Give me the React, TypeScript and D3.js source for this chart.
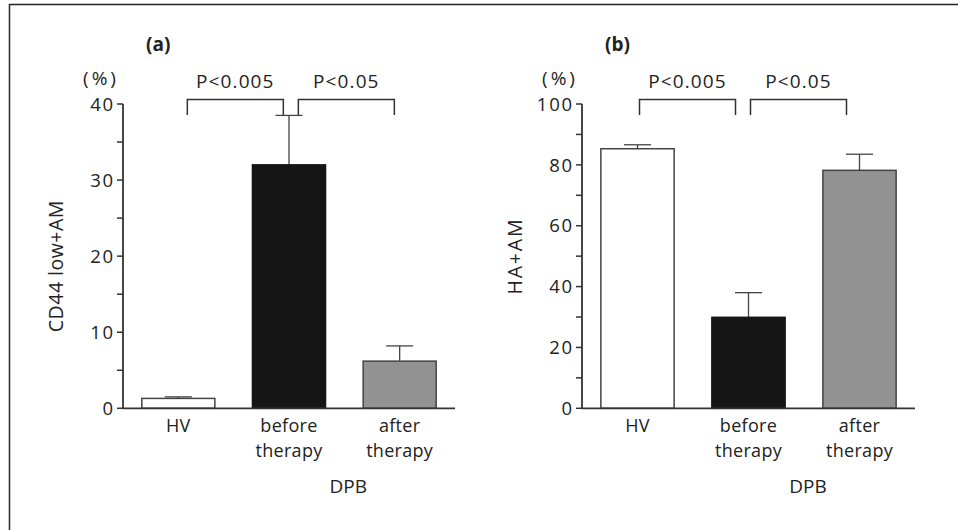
import React from "react";
import * as d3 from "d3";

const categories = ["HV", "before therapy", "after therapy"];
const categoryLines = [["HV"], ["before", "therapy"], ["after", "therapy"]];
const valuesA = [1.3, 32.0, 6.2];
const errorsA = [1.5, 38.5, 8.2];
const valuesB = [85.3, 29.9, 78.2];
const errorsB = [86.6, 38.0, 83.5];
const ticksA = [0, 10, 20, 30, 40];
const minorA = [5, 15, 25, 35];
const ticksB = [0, 20, 40, 60, 80, 100];
const minorB = [10, 30, 50, 70, 90];
const pLabels = ["P<0.005", "P<0.05"];
const fills = ["#ffffff", "#151515", "#929292"];

const FONT = "'Open Sans', 'DejaVu Sans', sans-serif";
const TXT = "#222";

type PanelProps = {
  x0: number;
  x1: number;
  max: number;
  values: number[];
  errors: number[];
  ticks: number[];
  minor: number[];
  yLabel: string;
  yLabelShift: number;
  yLabelSpacing: number;
  tag: string;
  bracketOffset: number;
};

function Panel({
  x0,
  x1,
  max,
  values,
  errors,
  ticks,
  minor,
  yLabel,
  yLabelShift,
  yLabelSpacing,
  tag,
  bracketOffset,
}: PanelProps) {
  const y = d3.scaleLinear().domain([0, max]).range([408.3, 104]);
  const x = d3
    .scaleBand<string>()
    .domain(categories)
    .range([x0, x1])
    .paddingInner(0.34)
    .paddingOuter(0.17);
  const bw = x.bandwidth();
  const cx = (c: string) => (x(c) as number) + bw / 2;
  const capW = 27;
  const bTop = 99.5;
  const bBot = 115;
  const bW = 96;
  const brackets = [
    [cx(categories[0]) + bracketOffset, cx(categories[0]) + bracketOffset + bW],
    [cx(categories[0]) + bracketOffset + bW + 15, cx(categories[0]) + bracketOffset + 2 * bW + 15],
  ];
  return (
    <g>
      {/* bars */}
      {categories.map((c, i) => (
        <g key={c}>
          <line
            x1={cx(c)}
            x2={cx(c)}
            y1={y(values[i])}
            y2={y(errors[i])}
            stroke="#444"
            strokeWidth={1.3}
          />
          <line
            x1={cx(c) - capW / 2}
            x2={cx(c) + capW / 2}
            y1={y(errors[i])}
            y2={y(errors[i])}
            stroke="#444"
            strokeWidth={1.3}
          />
          <rect
            x={x(c)}
            y={y(values[i])}
            width={bw}
            height={y(0) - y(values[i])}
            fill={fills[i]}
            stroke={i === 1 ? "#151515" : "#444"}
            strokeWidth={1.5}
          />
        </g>
      ))}
      {/* axes */}
      <line x1={x0} x2={x0} y1={y(max)} y2={y(0)} stroke="#333" strokeWidth={1.8} />
      <line x1={x0} x2={x1} y1={y(0)} y2={y(0)} stroke="#333" strokeWidth={1.8} />
      {ticks.map((t) => (
        <g key={t}>
          <line x1={x0 - 6} x2={x0} y1={y(t)} y2={y(t)} stroke="#333" strokeWidth={1.5} />
          <text
            x={x0 - 8}
            y={y(t)}
            dy="0.36em"
            textAnchor="end"
            fontSize={18.5}
            fill={TXT}
            fontFamily={FONT}
            letterSpacing={1.8}
          >
            {t}
          </text>
        </g>
      ))}
      {minor.map((t) => (
        <line key={t} x1={x0 - 6} x2={x0} y1={y(t)} y2={y(t)} stroke="#333" strokeWidth={1.5} />
      ))}
      {/* category labels */}
      {categories.map((c, i) =>
        categoryLines[i].map((ln, j) => (
          <text
            key={c + j}
            x={cx(c)}
            y={432 + j * 24.5}
            textAnchor="middle"
            fontSize={18}
            fill={TXT}
            fontFamily={FONT}
            letterSpacing={0.3}
          >
            {ln}
          </text>
        ))
      )}
      <text
        x={(cx(categories[1]) + cx(categories[2])) / 2 + 4}
        y={493}
        textAnchor="middle"
        fontSize={19}
        fill={TXT}
        fontFamily={FONT}
      >
        DPB
      </text>
      {/* y label */}
      <text
        transform={`translate(${x0 - 60},${(y(0) + y(max)) / 2 + yLabelShift}) rotate(-90)`}
        textAnchor="middle"
        fontSize={19.5}
        fill={TXT}
        fontFamily={FONT}
        letterSpacing={yLabelSpacing}
      >
        {yLabel}
      </text>
      <text
        x={x0 - 22}
        y={85}
        textAnchor="middle"
        fontSize={19}
        fill={TXT}
        fontFamily={FONT}
        letterSpacing={3}
      >
        (%)
      </text>
      <text x={x0 + 23} y={51} fontSize={19} fontWeight="bold" fill={TXT} fontFamily={FONT}>
        {tag}
      </text>
      {/* brackets */}
      {brackets.map(([a, b], i) => (
        <g key={i}>
          <path
            d={`M${a},${bBot}V${bTop}H${b}V${bBot}`}
            fill="none"
            stroke="#333"
            strokeWidth={1.5}
          />
          <text
            x={(a + b) / 2}
            y={88}
            textAnchor="middle"
            fontSize={19}
            fill={TXT}
            fontFamily={FONT}
            letterSpacing={1.1}
          >
            {pLabels[i]}
          </text>
        </g>
      ))}
    </g>
  );
}

export default function App() {
  return (
    <div style={{ position: "absolute", left: 0, top: 0 }}>
      <svg width={958} height={530} style={{ display: "block", background: "#fff" }}>
        <line x1={9} x2={958} y1={4.5} y2={4.5} stroke="#222" strokeWidth={1.6} />
        <line x1={9.5} x2={9.5} y1={4} y2={530} stroke="#333" strokeWidth={1.6} />
        <Panel
          x0={123}
          x1={455}
          max={40}
          values={valuesA}
          errors={errorsA}
          ticks={ticksA}
          minor={minorA}
          yLabel="CD44 low+AM"
          yLabelShift={10}
          yLabelSpacing={0.5}
          tag="(a)"
          bracketOffset={9}
        />
        <Panel
          x0={582}
          x1={915}
          max={100}
          values={valuesB}
          errors={errorsB}
          ticks={ticksB}
          minor={minorB}
          yLabel="HA+AM"
          yLabelShift={0}
          yLabelSpacing={1.8}
          tag="(b)"
          bracketOffset={2}
        />
      </svg>
    </div>
  );
}
